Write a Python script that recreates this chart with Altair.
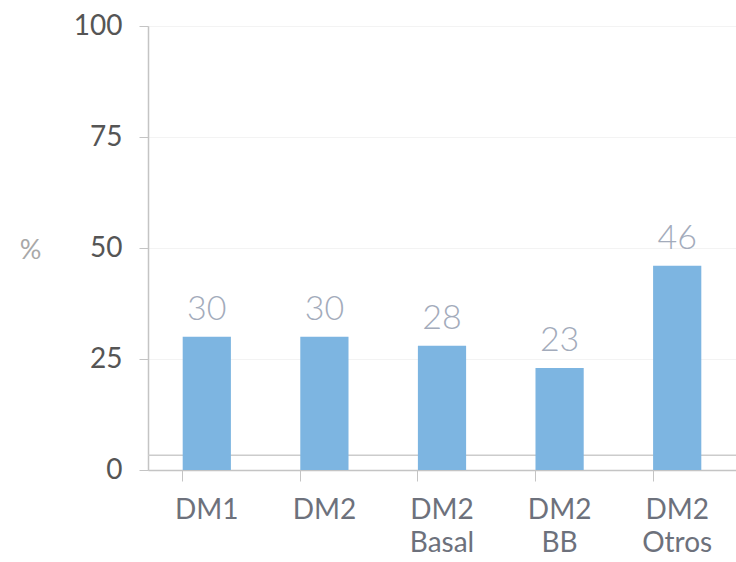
import altair as alt
import pandas as pd

categories = ["DM1", "DM2", "DM2 Basal", "DM2 BB", "DM2 Otros"]
values = [30, 30, 28, 23, 46]
y_ticks = [0, 25, 50, 75, 100]

df = pd.DataFrame({"cat": categories, "val": values})

FONT = "Lato"

x_enc = alt.X(
    "cat:N",
    sort=categories,
    scale=alt.Scale(paddingInner=0.59, paddingOuter=0.295),
    axis=alt.Axis(
        title=None,
        labelAngle=0,
        labelExpr="split(datum.label, ' ')",
        labelFont=FONT,
        labelFontSize=28,
        labelColor="#6d717c",
        labelPadding=15,
        labelLineHeight=33,
        labelBaseline="top",
        bandPosition=0,
        tickSize=11,
        tickColor="#c4c4c4",
        domainColor="#c4c4c4",
        domainWidth=1.5,
        grid=False,
    ),
)

y_scale = alt.Scale(domain=[0, 100], nice=False)

bars = alt.Chart(df).mark_bar(color="#7db5e1").encode(
    x=x_enc,
    y=alt.Y(
        "val:Q",
        scale=y_scale,
        axis=alt.Axis(
            values=y_ticks,
            title="%",
            titleAngle=0,
            titleFont=FONT,
            titleFontSize=27,
            titleFontWeight="normal",
            titleColor="#a8a8a8",
            titleX=-118,
            titleY=224,
            titleAlign="center",
            titleBaseline="middle",
            labelFont=FONT,
            labelFontSize=28,
            labelColor="#555555",
            labelPadding=17,
            tickSize=9,
            tickColor="#c4c4c4",
            domainColor="#c4c4c4",
            domainWidth=1.5,
            grid=True,
            gridColor="#f3f3f3",
        ),
    ),
)

labels = alt.Chart(df).mark_text(
    font=FONT,
    fontSize=34,
    fontWeight=300,
    color="#a3abbb",
    baseline="alphabetic",
    dy=-17,
).encode(
    x=alt.X("cat:N", sort=categories),
    y=alt.Y("val:Q", scale=y_scale),
    text=alt.Text("val:Q"),
)

floor = alt.Chart(pd.DataFrame({"f": [3.3]})).mark_rule(
    color="#cccccc", strokeWidth=1.5
).encode(y=alt.Y("f:Q", scale=y_scale))

chart = (
    alt.layer(floor, bars, labels)
    .properties(
        width=588,
        height=444,
        autosize=alt.AutoSizeParams(type="none"),
        padding={"left": 148, "top": 26, "right": 0, "bottom": 92},
    )
    .configure_view(stroke=None)
    .configure(background="white")
)

chart.save("out.html", embed_options={"renderer": "svg", "actions": False})
